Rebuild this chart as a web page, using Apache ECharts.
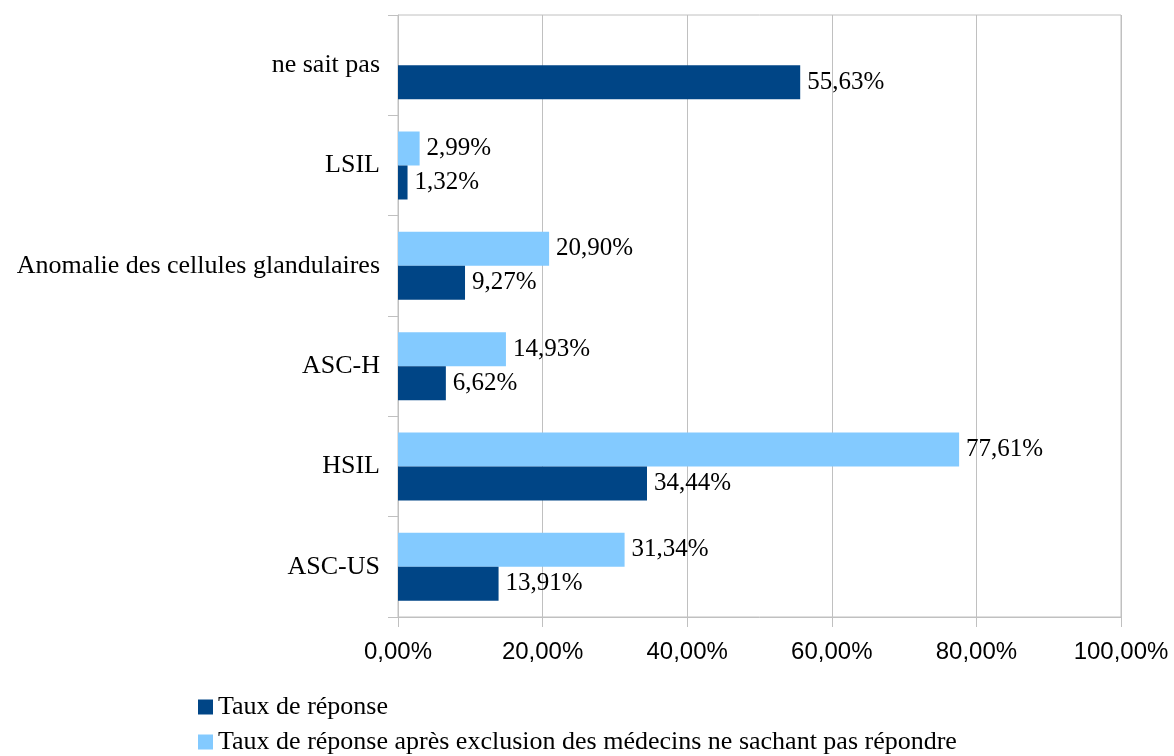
<!DOCTYPE html>
<html>
<head>
<meta charset="utf-8">
<script src="https://cdn.jsdelivr.net/npm/echarts@6/dist/echarts.min.js"></script>
<style>
  html, body { margin: 0; padding: 0; background: #fff; }
  #chart { width: 1174px; height: 756px; }
</style>
</head>
<body>
<div id="chart"></div>
<script>
// catégories, de bas en haut
const categories = ['ASC-US', 'HSIL', 'ASC-H', 'Anomalie des cellules glandulaires', 'LSIL', 'ne sait pas'];
const tauxReponse = [13.91, 34.44, 6.62, 9.27, 1.32, 55.63];
const tauxExclusion = [31.34, 77.61, 14.93, 20.90, 2.99, null];
const nomSerie1 = 'Taux de réponse';
const nomSerie2 = 'Taux de réponse après exclusion des médecins ne sachant pas répondre';

function fmtPct(v) {
  return v.toFixed(2).replace('.', ',') + '%';
}

function renderChart() {
  const dom = document.getElementById('chart');
  const chart = echarts.init(dom);
  const serif = 'Liberation Serif';
  const barLabel = {
    show: true,
    position: 'right',
    distance: 7,
    fontFamily: serif,
    fontSize: 25,
    color: '#000',
    formatter: function (p) { return fmtPct(p.value); }
  };
  const option = {
    animation: false,
    grid: {
      left: 398,
      right: 53,
      top: 15,
      bottom: 139,
      show: true,
      borderColor: '#c0c0c0',
      borderWidth: 1
    },
    legend: {
      data: [nomSerie1, nomSerie2],
      orient: 'vertical',
      left: 198,
      top: 694,
      height: 62,
      padding: 0,
      itemWidth: 15,
      itemHeight: 15,
      itemGap: 9,
      itemTextGap: 9,
      icon: 'rect',
      textStyle: {
        fontFamily: serif,
        fontSize: 26,
        color: '#000'
      }
    },
    xAxis: {
      type: 'value',
      min: 0,
      max: 100,
      interval: 20,
      axisLine: { show: true, lineStyle: { color: '#c0c0c0' } },
      axisTick: { show: true, length: 10, lineStyle: { color: '#c0c0c0' } },
      splitLine: { show: true, lineStyle: { color: '#c0c0c0' } },
      axisLabel: {
        margin: 23,
        fontFamily: 'Liberation Sans',
        fontSize: 24,
        color: '#000',
        formatter: function (v) { return fmtPct(v); }
      }
    },
    yAxis: {
      type: 'category',
      data: categories,
      axisLine: { show: true, lineStyle: { color: '#c0c0c0' } },
      axisTick: { show: true, length: 10, lineStyle: { color: '#c0c0c0' } },
      axisLabel: {
        margin: 18,
        padding: [6, 0, 0, 0],
        fontFamily: serif,
        fontSize: 26,
        color: '#000'
      }
    },
    series: [
      {
        name: nomSerie2,
        type: 'bar',
        data: tauxExclusion,
        barWidth: 34,
        barGap: '0%',
        itemStyle: { color: '#83caff' },
        label: barLabel
      },
      {
        name: nomSerie1,
        type: 'bar',
        data: tauxReponse,
        barWidth: 34,
        barGap: '0%',
        itemStyle: { color: '#004586' },
        label: barLabel
      }
    ]
  };
  chart.setOption(option, true);
}
renderChart();
</script>
</body>
</html>
